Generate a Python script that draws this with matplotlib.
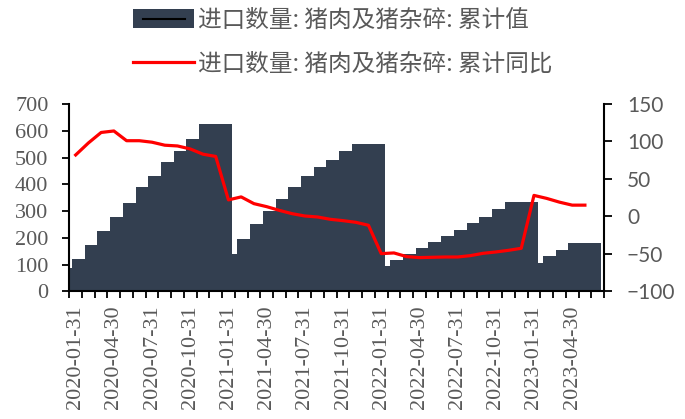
import numpy as np
import pandas as pd
import matplotlib
matplotlib.use('Agg')
import matplotlib.pyplot as plt
from matplotlib.patches import Patch, Rectangle
from matplotlib.lines import Line2D
from matplotlib.legend_handler import HandlerBase

# monthly categories 2020-01 .. 2023-06 (month-end labels)
months = pd.date_range('2020-01-31', periods=42, freq='ME').strftime('%Y-%m-%d').tolist()

# 进口数量: 猪肉及猪杂碎: 累计值 (万吨), Jan values hidden / not published
cum_2020 = [88, 120, 174, 226, 279, 331, 389, 432, 484, 525, 569, 625]
cum_2021 = [np.nan, 141, 196, 251, 300, 345, 391, 430, 464, 492, 524, 551]
cum_2022 = [np.nan, 94, 117, 140, 162, 184, 206, 229, 254, 279, 306, 335]
cum_2023 = [np.nan, 106, 131, 154, 179, np.nan]

# 进口数量: 猪肉及猪杂碎: 累计同比 (%)
yoy_2020 = [82, 98, 112, 114, 101, 101, 99, 95, 94, 90, 83, 80]
yoy_2021 = [22, 26, 17, 13, 8, 3.6, 0.5, -0.8, -3.9, -5.7, -7.9, -11.9]
yoy_2022 = [-49.7, -48.8, -53.7, -55, -54.6, -54.2, -54.2, -52.4, -49.3, -47.5, -45.3, -42.6]
yoy_2023 = [28, 24, 19, 15, 15, np.nan]

cum = np.array(cum_2020 + cum_2021 + cum_2022 + cum_2023, dtype=float)
yoy = np.array(yoy_2020 + yoy_2021 + yoy_2022 + yoy_2023, dtype=float)
x = np.arange(len(months))

label_bar = '进口数量: 猪肉及猪杂碎: 累计值'
label_line = '进口数量: 猪肉及猪杂碎: 累计同比'

bar_color = '#333F50'
grey = '#595959'


class BarLineHandler(HandlerBase):
    # dark box with a short black line through it, like the excel legend key
    def create_artists(self, legend, orig_handle, xdescent, ydescent, width, height, fontsize, trans):
        box = Rectangle((-xdescent, -ydescent), width, height, facecolor=bar_color,
                        edgecolor='none', transform=trans)
        ln = Line2D([-xdescent + 0.16*width, -xdescent + 0.84*width],
                    [-ydescent + height/2]*2, color='black', lw=1.5, transform=trans)
        return [box, ln]


fig = plt.figure(figsize=(6.85, 4.19), dpi=100)
ax = fig.add_axes([69.3/685, 1-291.3/419, (604-69.3)/685, (291.3-104)/419])
ax2 = ax.twinx()

ok = ~np.isnan(cum)
ax.bar(x[ok], cum[ok], width=2.6, color=bar_color, linewidth=0)
ax2.plot(x, yoy, color='#FF0000', lw=2.3)

ax.set_xlim(-0.5, 41.5)
ax.set_ylim(0, 700)
ax.set_yticks(np.arange(0, 701, 100))
ax2.set_ylim(-100, 150)
ax2.set_yticks(np.arange(-100, 151, 50))

ax.set_xticks(x[::3])
ax.set_xticklabels(months[::3], rotation=90, family='Liberation Serif', fontsize=16, color=grey)
ax.set_xticks(np.arange(-0.5, 42, 1), minor=True)
ax.tick_params(axis='x', which='major', length=0, pad=10)
ax.tick_params(axis='x', which='minor', length=5, width=1.3, direction='out')
ax.tick_params(axis='y', length=5, width=1.3, direction='out', pad=10)
for t in ax.get_yticklabels():
    t.set_family('Liberation Serif')
    t.set_fontsize(16)
    t.set_color(grey)
ax2.tick_params(axis='y', length=5.5, width=1.3, direction='out', pad=11)
for t in ax2.get_yticklabels():
    t.set_family('Lato')
    t.set_fontsize(15)
    t.set_color(grey)

for a in (ax, ax2):
    a.spines['top'].set_visible(False)
    for s in ('left', 'right', 'bottom'):
        a.spines[s].set_linewidth(1.5)
ax2.spines['left'].set_visible(False)
ax2.spines['bottom'].set_visible(False)
ax.spines['right'].set_visible(False)

h_bar = Patch(facecolor=bar_color)
h_line = Line2D([], [], color='#FF0000', lw=2.3)
fig.legend([h_bar, h_line], [label_bar, label_line],
           handler_map={Patch: BarLineHandler()},
           loc='upper left', bbox_to_anchor=(133/685, 1-9/419), frameon=False,
           prop={'family': ['Noto Sans CJK SC', 'DejaVu Sans'], 'size': 17},
           labelcolor=grey, handlelength=2.6, handleheight=0.85, handletextpad=0.17,
           labelspacing=0.88, borderpad=0, borderaxespad=0)

fig.savefig('out.png', dpi=100)
